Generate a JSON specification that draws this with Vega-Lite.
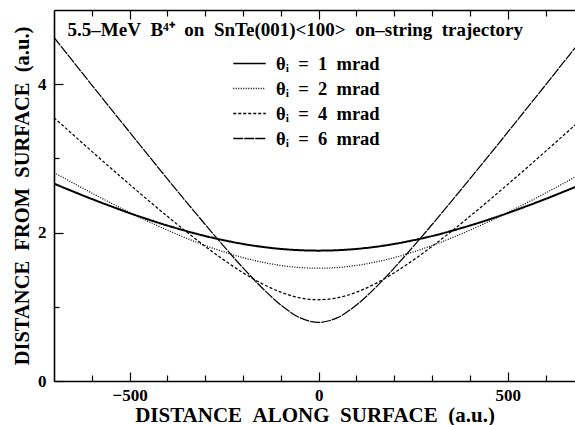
{
  "$schema": "https://vega.github.io/schema/vega-lite/v6.json",
  "autosize": "none",
  "width": 521,
  "height": 371,
  "padding": {"left": 54, "top": 10, "right": 0, "bottom": 44},
  "config": {
    "view": {"stroke": null},
    "axis": {
      "labelFont": "Liberation Serif, Times New Roman, serif", "labelFontWeight": "bold", "labelFontSize": 17, "labelColor": "black",
      "titleFont": "Liberation Serif, Times New Roman, serif", "titleFontWeight": "bold", "titleFontSize": 21, "titleColor": "black",
      "domainColor": "black", "domainWidth": 1.6, "tickColor": "black", "tickWidth": 1.2, "grid": false
    }
  },
  "layer": [
    {
      "data": {"values": [
        {"x": -700, "y": 2.660, "s": 1}, {"x": -650, "y": 2.555, "s": 1}, {"x": -600, "y": 2.453, "s": 1}, {"x": -550, "y": 2.356, "s": 1}, {"x": -500, "y": 2.263, "s": 1}, {"x": -450, "y": 2.176, "s": 1}, {"x": -400, "y": 2.095, "s": 1}, {"x": -350, "y": 2.021, "s": 1}, {"x": -300, "y": 1.954, "s": 1}, {"x": -250, "y": 1.896, "s": 1}, {"x": -200, "y": 1.847, "s": 1}, {"x": -150, "y": 1.808, "s": 1}, {"x": -100, "y": 1.780, "s": 1}, {"x": -50, "y": 1.763, "s": 1}, {"x": 0, "y": 1.757, "s": 1}, {"x": 50, "y": 1.763, "s": 1}, {"x": 100, "y": 1.780, "s": 1}, {"x": 150, "y": 1.808, "s": 1}, {"x": 200, "y": 1.847, "s": 1}, {"x": 250, "y": 1.896, "s": 1}, {"x": 300, "y": 1.954, "s": 1}, {"x": 350, "y": 2.021, "s": 1}, {"x": 400, "y": 2.095, "s": 1}, {"x": 450, "y": 2.176, "s": 1}, {"x": 500, "y": 2.263, "s": 1}, {"x": 550, "y": 2.356, "s": 1}, {"x": 600, "y": 2.453, "s": 1}, {"x": 650, "y": 2.555, "s": 1}, {"x": 686, "y": 2.630, "s": 1},
        {"x": -700, "y": 2.810, "s": 2}, {"x": -650, "y": 2.670, "s": 2}, {"x": -600, "y": 2.533, "s": 2}, {"x": -550, "y": 2.400, "s": 2}, {"x": -500, "y": 2.272, "s": 2}, {"x": -450, "y": 2.149, "s": 2}, {"x": -400, "y": 2.033, "s": 2}, {"x": -350, "y": 1.925, "s": 2}, {"x": -300, "y": 1.826, "s": 2}, {"x": -250, "y": 1.739, "s": 2}, {"x": -200, "y": 1.663, "s": 2}, {"x": -150, "y": 1.602, "s": 2}, {"x": -100, "y": 1.557, "s": 2}, {"x": -50, "y": 1.529, "s": 2}, {"x": 0, "y": 1.520, "s": 2}, {"x": 50, "y": 1.529, "s": 2}, {"x": 100, "y": 1.557, "s": 2}, {"x": 150, "y": 1.602, "s": 2}, {"x": 200, "y": 1.663, "s": 2}, {"x": 250, "y": 1.739, "s": 2}, {"x": 300, "y": 1.826, "s": 2}, {"x": 350, "y": 1.925, "s": 2}, {"x": 400, "y": 2.033, "s": 2}, {"x": 450, "y": 2.149, "s": 2}, {"x": 500, "y": 2.272, "s": 2}, {"x": 550, "y": 2.400, "s": 2}, {"x": 600, "y": 2.533, "s": 2}, {"x": 650, "y": 2.670, "s": 2}, {"x": 686, "y": 2.770, "s": 2},
        {"x": -700, "y": 3.550, "s": 4}, {"x": -650, "y": 3.321, "s": 4}, {"x": -600, "y": 3.095, "s": 4}, {"x": -550, "y": 2.870, "s": 4}, {"x": -500, "y": 2.649, "s": 4}, {"x": -450, "y": 2.431, "s": 4}, {"x": -400, "y": 2.219, "s": 4}, {"x": -350, "y": 2.012, "s": 4}, {"x": -300, "y": 1.815, "s": 4}, {"x": -250, "y": 1.629, "s": 4}, {"x": -200, "y": 1.459, "s": 4}, {"x": -150, "y": 1.312, "s": 4}, {"x": -100, "y": 1.197, "s": 4}, {"x": -50, "y": 1.121, "s": 4}, {"x": 0, "y": 1.095, "s": 4}, {"x": 50, "y": 1.121, "s": 4}, {"x": 100, "y": 1.197, "s": 4}, {"x": 150, "y": 1.312, "s": 4}, {"x": 200, "y": 1.459, "s": 4}, {"x": 250, "y": 1.629, "s": 4}, {"x": 300, "y": 1.815, "s": 4}, {"x": 350, "y": 2.012, "s": 4}, {"x": 400, "y": 2.219, "s": 4}, {"x": 450, "y": 2.431, "s": 4}, {"x": 500, "y": 2.649, "s": 4}, {"x": 550, "y": 2.870, "s": 4}, {"x": 600, "y": 3.095, "s": 4}, {"x": 650, "y": 3.321, "s": 4}, {"x": 686, "y": 3.486, "s": 4},
        {"x": -700, "y": 4.630, "s": 6}, {"x": -650, "y": 4.310, "s": 6}, {"x": -600, "y": 3.989, "s": 6}, {"x": -550, "y": 3.671, "s": 6}, {"x": -500, "y": 3.353, "s": 6}, {"x": -450, "y": 3.037, "s": 6}, {"x": -400, "y": 2.724, "s": 6}, {"x": -350, "y": 2.414, "s": 6}, {"x": -300, "y": 2.109, "s": 6}, {"x": -250, "y": 1.811, "s": 6}, {"x": -200, "y": 1.524, "s": 6}, {"x": -150, "y": 1.257, "s": 6}, {"x": -100, "y": 1.024, "s": 6}, {"x": -50, "y": 0.854, "s": 6}, {"x": 0, "y": 0.790, "s": 6}, {"x": 50, "y": 0.854, "s": 6}, {"x": 100, "y": 1.024, "s": 6}, {"x": 150, "y": 1.257, "s": 6}, {"x": 200, "y": 1.524, "s": 6}, {"x": 250, "y": 1.811, "s": 6}, {"x": 300, "y": 2.109, "s": 6}, {"x": 350, "y": 2.414, "s": 6}, {"x": 400, "y": 2.724, "s": 6}, {"x": 450, "y": 3.037, "s": 6}, {"x": 500, "y": 3.353, "s": 6}, {"x": 550, "y": 3.671, "s": 6}, {"x": 600, "y": 3.989, "s": 6}, {"x": 650, "y": 4.310, "s": 6}, {"x": 686, "y": 4.540, "s": 6}
      ]},
      "mark": {"type": "line", "interpolate": "monotone", "color": "black", "clip": true},
      "encoding": {
        "x": {
          "field": "x", "type": "quantitative",
          "scale": {"domain": [-700, 678], "nice": false, "zero": false},
          "axis": {
            "orient": "bottom",
            "title": "DISTANCE\u2002ALONG\u2002SURFACE\u2002(a.u.)",
            "titleFontSize": 21,
            "values": [-600, -500, -400, -300, -200, -100, 0, 100, 200, 300, 400, 500, 600],
            "labelExpr": "datum.value % 500 === 0 ? datum.label : ''",
            "tickSize": {"condition": {"test": "datum.value % 500 === 0", "value": -9}, "value": -6},
            "labelPadding": 15,
            "titlePadding": 1,
            "labelFlush": false
          }
        },
        "y": {
          "field": "y", "type": "quantitative",
          "scale": {"domain": [0, 5], "nice": false},
          "axis": {
            "title": "DISTANCE\u2002FROM\u2002SURFACE\u2002(a.u.)",
            "titleFontSize": 20.5,
            "format": "d",
            "values": [0, 0.5, 1, 1.5, 2, 2.5, 3, 3.5, 4, 4.5],
            "labelExpr": "datum.value % 2 === 0 ? datum.label : ''",
            "tickSize": {"condition": {"test": "datum.value % 2 === 0", "value": -9}, "value": -5},
            "labelPadding": 17,
            "titlePadding": 5,
            "labelFlush": false
          }
        },
        "strokeDash": {
          "field": "s", "type": "ordinal",
          "scale": {"domain": [1, 2, 4, 6], "range": [[1, 0], [1, 1.5], [3, 2], [10, 1]]},
          "legend": {
            "orient": "none", "legendX": 182, "legendY": 40,
            "title": null,
            "labelExpr": "'θᵢ\u2002=\u2002' + datum.label + '\u2002mrad'",
            "symbolType": "M-1.3,0H1.3",
            "symbolSize": 625,
            "symbolStrokeWidth": 1.4,
            "symbolStrokeColor": "black",
            "symbolFillColor": "transparent",
            "labelFont": "Liberation Serif, Times New Roman, serif", "labelFontWeight": "bold", "labelFontSize": 18.5, "labelColor": "black",
            "labelOffset": 13,
            "rowPadding": 2,
            "padding": 0
          }
        },
        "strokeWidth": {"condition": {"test": "datum.s === 1", "value": 2}, "value": 1.25}
      }
    },
    {
      "data": {"values": [{"t": "5.5–MeV\u2002B⁴⁺\u2002on\u2002SnTe(001)<100>\u2002on–string\u2002trajectory"}]},
      "mark": {"type": "text", "align": "left", "baseline": "middle", "fontWeight": "bold", "fontSize": 19, "font": "Liberation Serif, Times New Roman, serif", "color": "black"},
      "encoding": {
        "x": {
          "datum": -664, "type": "quantitative",
          "scale": {"domain": [-700, 678], "nice": false, "zero": false},
          "axis": {
            "orient": "top", "title": null, "labels": false,
            "values": [-600, -500, -400, -300, -200, -100, 0, 100, 200, 300, 400, 500, 600],
            "tickSize": {"condition": {"test": "datum.value % 500 === 0", "value": -9}, "value": -6}
          }
        },
        "y": {"datum": 4.73, "type": "quantitative", "axis": null},
        "text": {"field": "t"}
      }
    }
  ],
  "resolve": {"axis": {"x": "independent", "y": "independent"}}
}
